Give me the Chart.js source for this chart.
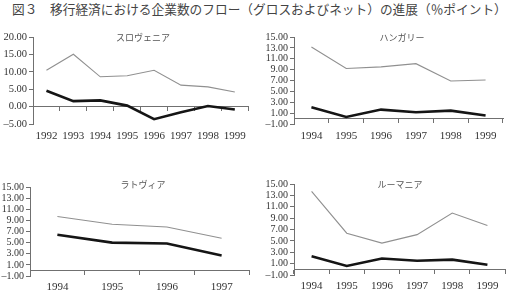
<!DOCTYPE html>
<html><head><meta charset="utf-8">
<script src="https://cdn.jsdelivr.net/npm/chart.js@4/dist/chart.umd.min.js"></script>
<style>
html,body{margin:0;padding:0;background:#fff;width:509px;height:305px;overflow:hidden;position:relative;}
canvas{position:absolute;}
.t{position:absolute;font-family:"Noto Sans CJK JP",sans-serif;color:#555;white-space:nowrap;transform:translate(-50%,-50%);}
#main{position:absolute;left:12px;top:0px;font-family:"Noto Sans CJK JP",sans-serif;font-size:12.7px;color:#444;white-space:nowrap;line-height:18px;}
#pre{position:absolute;left:-100px;top:-100px;font-family:"Liberation Serif";font-size:11px;}
</style></head><body>
<div id="pre">1992 0.00</div>
<div id="main">図３　移行経済における企業数のフロー（グロスおよびネット）の進展（％ポイント）</div>
<canvas id="c1" style="left:0;top:30px" width="252" height="115"></canvas>
<canvas id="c2" style="left:255px;top:30px" width="254" height="115"></canvas>
<canvas id="c3" style="left:0;top:180px" width="252" height="125"></canvas>
<canvas id="c4" style="left:255px;top:177px" width="254" height="128"></canvas>
<div class="t" style="left:143px;top:37px;font-size:9px">スロヴェニア</div>
<div class="t" style="left:402px;top:37px;font-size:9px">ハンガリー</div>
<div class="t" style="left:143px;top:184px;font-size:9px">ラトヴィア</div>
<div class="t" style="left:400px;top:184px;font-size:9px">ルーマニア</div>
<script>
const sloYears = ['1992','1993','1994','1995','1996','1997','1998','1999'];
const sloGross = [10.5, 15.1, 8.6, 8.9, 10.5, 6.2, 5.7, 4.2];
const sloNet   = [4.6, 1.6, 1.8, 0.3, -3.6, -1.6, 0.2, -0.8];

const hunYears = ['1994','1995','1996','1997','1998','1999'];
const hunGross = [13.15, 9.2, 9.5, 10.1, 6.9, 7.1];
const hunNet   = [2.1, 0.3, 1.65, 1.15, 1.45, 0.55];

const latYears = ['1994','1995','1996','1997'];
const latGross = [9.7, 8.3, 7.8, 5.8];
const latNet   = [6.4, 5.0, 4.85, 2.7];

const romYears = ['1994','1995','1996','1997','1998','1999'];
const romGross = [13.7, 6.35, 4.6, 6.1, 9.9, 7.7];
const romNet   = [2.3, 0.6, 1.9, 1.5, 1.7, 0.8];

const sloTicks = {min:-5, max:20, step:5};
const othTicks = {min:-1, max:15, step:2};

const SERIF = '"Liberation Serif", "Times New Roman", serif';
Chart.defaults.font.family = SERIF;
const AX = '#707070';
function make(id, labels, gross, net, tk, yW, xH, padR, yFont, xPad){
  new Chart(document.getElementById(id), {
    type:'line',
    data:{labels, datasets:[
      {data:gross, borderColor:'#909090', borderWidth:1.1, pointRadius:0, tension:0, fill:false},
      {data:net, borderColor:'#151515', borderWidth:2.6, pointRadius:0, tension:0, fill:false}
    ]},
    options:{
      responsive:false, animation:false, devicePixelRatio:1,
      layout:{padding:{top:7, right:padR, left:0, bottom:0}},
      plugins:{legend:{display:false}, tooltip:{enabled:false}, title:{display:false}},
      scales:{
        x:{type:'category', offset:true, position:'bottom',
           grid:{display:false, drawTicks:false}, border:{display:false},
           ticks:{color:'#333', font:{family:SERIF, size:11}, padding:xPad, maxRotation:0, autoSkip:false},
           afterFit:s=>{s.height=xH;}},
        x2:{type:'category', offset:true, position:{y:0},
           grid:{offset:true, drawOnChartArea:false, tickLength:4, color:AX},
           border:{display:true, color:AX, width:1},
           ticks:{display:false}},
        y:{min:tk.min, max:tk.max,
           grid:{drawOnChartArea:false, tickLength:4, color:AX},
           border:{display:true, color:AX, width:1},
           ticks:{stepSize:tk.step, color:'#333', padding:2, autoSkip:false,
             font:{family:SERIF, size:yFont, lineHeight:1},
             callback:v=>(v<0?'\u2013'+Math.abs(v).toFixed(2):v.toFixed(2))},
           afterFit:s=>{s.width=yW;}}
      }
    }
  });
}
function drawAll(){
  make('c1', sloYears, sloGross, sloNet, sloTicks, 33, 21, 3, 10.5, 6);
  make('c2', hunYears, hunGross, hunNet, othTicks, 39, 21, 6, 10, 6);
  make('c3', latYears, latGross, latNet, othTicks, 30, 29, 3, 10, 5);
  make('c4', romYears, romGross, romNet, othTicks, 39, 30, 4, 10, 5);
}
if (document.fonts && document.fonts.load) {
  document.fonts.load('11px "Liberation Serif"').then(drawAll, drawAll);
} else drawAll();
</script>
</body></html>
